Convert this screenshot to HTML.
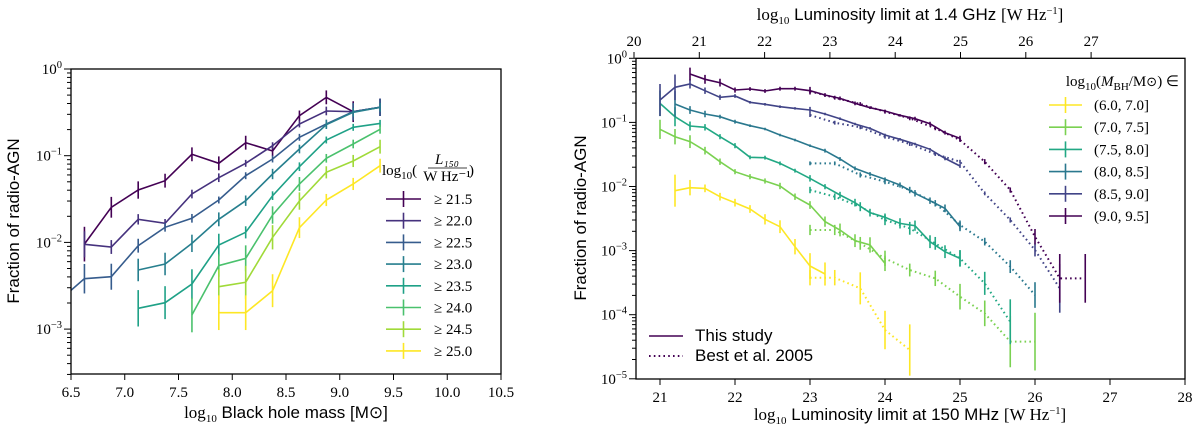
<!DOCTYPE html>
<html><head><meta charset="utf-8"><style>
html,body{margin:0;padding:0;background:#fff;}
svg{display:block;}
.num{font-family:"Liberation Serif",serif;font-size:15px;fill:#000;}
.lab{font-family:"Liberation Sans",sans-serif;font-size:17px;fill:#000;}
</style></head><body>
<svg id="fig" width="1200" height="431" viewBox="0 0 1200 431" xmlns="http://www.w3.org/2000/svg">
<defs>
<clipPath id="clipL"><rect x="71" y="69" width="430" height="305"/></clipPath>
<clipPath id="clipR"><rect x="636" y="58.3" width="549" height="320.7"/></clipPath>
</defs>
<g id="left"></g>
<g id="right"></g>
</svg>
<script>
// ---------- LEFT CHART DATA ----------
const massBins = [6.375,6.625,6.875,7.125,7.375,7.625,7.875,8.125,8.375,8.625,8.875,9.125,9.375];
const lumThreshLabels = ["\u2265 21.5","\u2265 22.0","\u2265 22.5","\u2265 23.0","\u2265 23.5","\u2265 24.0","\u2265 24.5","\u2265 25.0"];
const leftColors = ["#440154","#46327e","#365c8d","#277f8e","#1fa187","#4ac16d","#a0da39","#fde725"];
const leftStart = [1,1,0,3,3,5,6,6];
const s215 = [-2.02,-1.595,-1.396,-1.288,-0.984,-1.088,-0.85,-0.946,-0.539,-0.327,-0.492,-0.442];
const s220 = [-2.022,-2.053,-1.734,-1.78,-1.442,-1.254,-1.088,-0.885,-0.634,-0.484,-0.492,-0.442];
const s225 = [-2.687,-2.419,-2.396,-2.038,-1.826,-1.722,-1.511,-1.231,-1.038,-0.788,-0.634,-0.492,-0.442];
const s230 = [-2.318,-2.249,-2.011,-1.734,-1.519,-1.211,-0.923,-0.642,-0.5,-0.442];
const s235 = [-2.76,-2.695,-2.48,-2.03,-1.884,-1.461,-1.127,-0.819,-0.673,-0.627];
const s240 = [-2.837,-2.268,-2.184,-1.684,-1.326,-1.03,-0.865,-0.696];
const s245 = [-2.511,-2.46,-1.941,-1.523,-1.192,-1.061,-0.896];
const s250 = [-2.811,-2.811,-2.557,-1.83,-1.511,-1.326,-1.115];
const e215 = [0.2,0.12,0.1,0.08,0.08,0.08,0.08,0.06,0.06,0.08,0.12,0.1];
const e220 = [0.15,0.08,0.06,0.05,0.05,0.05,0.04,0.04,0.04,0.05,0.1,0.1];
const e225 = [0,0.17,0.15,0.08,0.05,0.05,0.04,0.04,0.04,0.04,0.05,0.1,0.1];
const e230 = [0.13,0.13,0.1,0.08,0.06,0.06,0.05,0.05,0.05,0.05];
const e235 = [0.21,0.19,0.17,0.13,0.07,0.05,0.05,0.04,0.04,0.04];
const e240 = [0.2,0.13,0.15,0.1,0.08,0.05,0.05,0.05];
const e245 = [0.2,0.19,0.14,0.1,0.07,0.07,0.08];
const e250 = [0.2,0.2,0.19,0.12,0.07,0.07,0.08];
const leftX_ticks = ["6.5","7.0","7.5","8.0","8.5","9.0","9.5","10.0","10.5"];

// ---------- RIGHT CHART DATA ----------
const lum150 = [21.0,21.2,21.4,21.6,21.8,22.0,22.2,22.4,22.6,22.8,23.0,23.2,23.4,23.6,23.8,24.0,24.2,24.4,24.6,24.8,25.0];
const bestLum = [23.0,23.33,23.67,24.0,24.33,24.67,25.0,25.33,25.67,26.0,26.33,26.67];
const massLabels = ["(6.0, 7.0]","(7.0, 7.5]","(7.5, 8.0]","(8.0, 8.5]","(8.5, 9.0]","(9.0, 9.5]"];
const rightColors = ["#fde725","#7ad151","#22a884","#2a788e","#414487","#440154"];
const studyStart = [1,0,0,1,0,2];
const sm60 = [-2.065,-2.018,-2.029,-2.159,-2.252,-2.351,-2.512,-2.627,-2.939,-3.24,-3.365];
const sm70 = [-1.108,-1.223,-1.3,-1.441,-1.613,-1.769,-1.847,-1.914,-1.992,-2.159,-2.289,-2.548,-2.678,-2.845,-2.912,-3.199];
const sm75 = [-0.703,-0.911,-1.056,-1.077,-1.223,-1.363,-1.545,-1.55,-1.639,-1.753,-1.873,-2.003,-2.133,-2.252,-2.408,-2.481,-2.575,-2.611,-2.861,-3.017,-3.121];
const sm80 = [-0.713,-0.807,-0.869,-0.911,-0.989,-1.051,-1.103,-1.197,-1.275,-1.363,-1.441,-1.571,-1.717,-1.805,-1.888,-1.977,-2.106,-2.221,-2.341,-2.627];
const sm85 = [-0.651,-0.453,-0.401,-0.505,-0.609,-0.588,-0.687,-0.718,-0.755,-0.781,-0.807,-0.869,-0.942,-1.025,-1.093,-1.196,-1.264,-1.337,-1.42,-1.561,-1.68];
const sm90 = [-0.245,-0.328,-0.38,-0.495,-0.479,-0.51,-0.474,-0.474,-0.505,-0.573,-0.625,-0.703,-0.77,-0.822,-0.89,-0.942,-1.02,-1.16,-1.249];
const se60 = [0.25,0.12,0.06,0.06,0.06,0.06,0.08,0.1,0.12,0.2,0.18];
const se70 = [0.15,0.12,0.1,0.06,0.05,0.04,0.04,0.04,0.05,0.05,0.06,0.08,0.1,0.1,0.12,0.12];
const se75 = [0.2,0.15,0.07,0.05,0.04,0.04,0.03,0.03,0.03,0.03,0.05,0.04,0.05,0.06,0.06,0.06,0.08,0.08,0.1,0.1,0.13];
const se80 = [0.2,0.06,0.05,0.03,0.03,0.02,0.02,0.02,0.02,0.02,0.03,0.03,0.03,0.03,0.03,0.04,0.05,0.05,0.06,0.07];
const se85 = [0.25,0.2,0.07,0.05,0.04,0.03,0.02,0.02,0.02,0.02,0.05,0.02,0.02,0.02,0.02,0.02,0.02,0.02,0.02,0.03,0.03];
const se90 = [0.1,0.07,0.06,0.04,0.03,0.03,0.03,0.03,0.06,0.03,0.03,0.03,0.02,0.02,0.02,0.03,0.03,0.03,0.04];
const bm60 = [-3.422,-3.422,-3.589,-4.239,-4.551];
const bm70 = [-2.678,-2.678,-2.887,-3.121,-3.303,-3.433,-3.719,-3.979,-4.42,-4.42];
const bm75 = [-2.055,-2.159,-2.315,-2.523,-2.652,-2.887,-3.121,-3.511,-4.11];
const bm80 = [-1.639,-1.639,-1.82,-1.925,-2.055,-2.262,-2.601,-2.86,-3.25,-3.693];
const bm85 = [-0.885,-1.004,-1.077,-1.223,-1.337,-1.493,-1.613,-2.107,-2.523,-2.991,-3.589];
const bm90 = [-0.515,-0.614,-0.713,-0.833,-0.936,-1.092,-1.274,-1.613,-2.055,-2.783,-3.433,-3.433];
const be60 = [0.12,0.12,0.25,0.3,0.4];
const be70 = [0.08,0.08,0.1,0.12,0.1,0.12,0.2,0.2,0.4,0.45];
const be75 = [0.05,0.05,0.07,0.08,0.1,0.1,0.12,0.18,0.35];
const be80 = [0.03,0.03,0.04,0.04,0.05,0.05,0.07,0.06,0.1,0.2];
const be85 = [0.03,0.03,0.03,0.03,0.03,0.03,0.03,0.03,0.04,0.1,0.38];
const be90 = [0.03,0.03,0.03,0.03,0.03,0.03,0.03,0.04,0.04,0.12,0.38,0.38];
const botTicks = ["21","22","23","24","25","26","27","28"];
const topTicks = ["20","21","22","23","24","25","26","27"];

const NS = "http://www.w3.org/2000/svg";
function mk(parent, tag, attrs){
  const el = document.createElementNS(NS, tag);
  for (const k in attrs) el.setAttribute(k, attrs[k]);
  parent.appendChild(el);
  return el;
}
function sup(parent, x, y, base, exp, anchor){
  const t = mk(parent,'text',{x:x,y:y,'text-anchor':anchor||'end',class:'num'});
  t.appendChild(document.createTextNode(base));
  const ts = document.createElementNS(NS,'tspan');
  ts.setAttribute('dy','-6'); ts.setAttribute('font-size','10.5');
  ts.textContent = exp; t.appendChild(ts);
  return t;
}

// ---------- LEFT ----------
const L = document.getElementById('left');
const xL = m => 71 + (m-6.5)*107.5;
const yL = lg => 69 - lg*86.7;
const leftSeries = [s215,s220,s225,s230,s235,s240,s245,s250];
const leftErr = [e215,e220,e225,e230,e235,e240,e245,e250];
const gL = mk(L,'g',{'clip-path':'url(#clipL)'});


leftSeries.forEach((s,k)=>{
  const start = leftStart[k];
  const pts = s.map((v,i)=>xL(massBins[start+i]).toFixed(1)+','+yL(v).toFixed(1)).join(' ');
  const pl = mk(gL,'polyline',{points:pts,fill:'none',stroke:leftColors[k],'stroke-width':1.6});
  
  
  s.forEach((v,i)=>{
    const e = leftErr[k][i]; if(!e) return;
    const x = xL(massBins[start+i]);
    const b = mk(gL,'line',{x1:x,x2:x,y1:yL(v-e),y2:yL(v+e),stroke:leftColors[k],'stroke-width':1.6});
    
    
  });
});
const axL = mk(L,'rect',{x:71,y:69,width:430,height:305,fill:'none',stroke:'#000','stroke-width':1.3});


leftX_ticks.forEach((t,i)=>{
  const x = 71 + i*53.75;
  mk(L,'line',{x1:x,x2:x,y1:374,y2:380,stroke:'#000','stroke-width':1});
  const tx = mk(L,'text',{x:x,y:397,'text-anchor':'middle',class:'num'}); tx.textContent=t;
  
  
});
for(let d=0; d>=-4; d--){
  for(let m=1;m<=9;m++){
    const lg = d + Math.log10(m);
    const y = yL(lg);
    if(y<68.5||y>374.5) continue;
    mk(L,'line',{x1:71,x2:m===1?64:67,y1:y,y2:y,stroke:'#000','stroke-width':1});
  }
  if(yL(d)>=68 && yL(d)<=375){
    const t = sup(L,62,yL(d)+5,'10',d===0?'0':'\u2212'+(-d));
    
    
  }
}
const xtL = mk(L,'text',{x:286,y:418,'text-anchor':'middle',class:'lab'});
xtL.innerHTML = '<tspan font-family="Liberation Serif">log</tspan><tspan font-family="Liberation Serif" font-size="11" dy="4">10</tspan><tspan dy="-4"> Black hole mass [M</tspan><tspan font-family="DejaVu Sans">\u2299</tspan>]';


const ytL = mk(L,'text',{x:0,y:0,'text-anchor':'middle',class:'lab',transform:'translate(19,221) rotate(-90)'});
ytL.textContent='Fraction of radio-AGN';


// legend
const lgL = mk(L,'g',{});


const ltitle = mk(lgL,'text',{x:382,y:175,class:'num','font-size':'16'});
ltitle.innerHTML='log<tspan font-size="11" dy="4">10</tspan><tspan dy="-4">(</tspan>';
mk(lgL,'text',{x:447,y:164,'text-anchor':'middle',class:'num','font-size':'12','font-style':'italic'}).textContent='L\u2081\u2085\u2080';
mk(lgL,'line',{x1:428,x2:467,y1:168,y2:168,stroke:'#000','stroke-width':0.8});
mk(lgL,'text',{x:447,y:181,'text-anchor':'middle',class:'num','font-size':'11'}).textContent='W Hz\u207b\u00b9';
mk(lgL,'text',{x:469,y:175,class:'num','font-size':'16'}).textContent=')';
lumThreshLabels.forEach((t,k)=>{
  const y = 199 + k*21.7;
  const g = mk(lgL,'g',{});
  
  
  mk(g,'line',{x1:386,x2:421,y1:y,y2:y,stroke:leftColors[k],'stroke-width':1.6});
  mk(g,'line',{x1:403.5,x2:403.5,y1:y-8,y2:y+8,stroke:leftColors[k],'stroke-width':1.6});
  const tx = mk(g,'text',{x:434,y:y+5,class:'num','font-size':'16'}); tx.textContent=t;
});

// ---------- RIGHT ----------
const R = document.getElementById('right');
const xR = l => 660 + (l-21)*75;
const yR = lg => 58.3 - lg*64.1;
const xTop = t => 634 + (t-20)*65.3;
const studySeries = [sm60,sm70,sm75,sm80,sm85,sm90];
const studyErr = [se60,se70,se75,se80,se85,se90];
const bestSeries = [bm60,bm70,bm75,bm80,bm85,bm90];
const bestErr = [be60,be70,be75,be80,be85,be90];
const gR = mk(R,'g',{'clip-path':'url(#clipR)'});


function drawR(series, errs, xs, startArr, dotted, nm){
  series.forEach((s,k)=>{
    const st = startArr ? startArr[k] : 0;
    const pts = s.map((v,i)=>xR(xs[st+i]).toFixed(1)+','+yR(v).toFixed(1)).join(' ');
    const a = {points:pts,fill:'none',stroke:rightColors[k],'stroke-width':1.6};
    if(dotted){a['stroke-dasharray']='1.6 3.2'; a['stroke-width']=2;}
    const pl = mk(gR,'polyline',a);
    
    
    s.forEach((v,i)=>{
      const x = xR(xs[st+i]); const e = errs[k][i];
      const b = mk(gR,'line',{x1:x,x2:x,y1:yR(v-e),y2:yR(v+e),stroke:rightColors[k],'stroke-width':1.6});
      
      
    });
  });
}
drawR(bestSeries,bestErr,bestLum,null,true,'best2005');
drawR(studySeries,studyErr,lum150,studyStart,false,'this-study');
const axR = mk(R,'rect',{x:636,y:58.3,width:549,height:320.7,fill:'none',stroke:'#000','stroke-width':1.3});


botTicks.forEach(t=>{
  const x = xR(+t);
  mk(R,'line',{x1:x,x2:x,y1:379,y2:385,stroke:'#000','stroke-width':1});
  const tx = mk(R,'text',{x:x,y:402,'text-anchor':'middle',class:'num'}); tx.textContent=t;
  
  
});
topTicks.forEach(t=>{
  const x = xTop(+t);
  mk(R,'line',{x1:x,x2:x,y1:58.3,y2:52,stroke:'#000','stroke-width':1});
  const tx = mk(R,'text',{x:x,y:46,'text-anchor':'middle',class:'num'}); tx.textContent=t;
  
  
});
for(let d=0; d>=-5; d--){
  for(let m=1;m<=9;m++){
    const lg = d + Math.log10(m);
    const y = yR(lg);
    if(y<58||y>379.5) continue;
    mk(R,'line',{x1:636,x2:m===1?629:632,y1:y,y2:y,stroke:'#000','stroke-width':1});
  }
  const t = sup(R,627,yR(d)+5,'10',d===0?'0':'\u2212'+(-d));
  
  
}
const xtR = mk(R,'text',{x:910,y:420,'text-anchor':'middle',class:'lab'});
xtR.innerHTML = '<tspan font-family="Liberation Serif">log</tspan><tspan font-family="Liberation Serif" font-size="11" dy="4">10</tspan><tspan dy="-4"> Luminosity limit at 150 MHz </tspan><tspan font-family="Liberation Serif">[W Hz</tspan><tspan font-family="Liberation Serif" font-size="10.5" dy="-6">\u22121</tspan><tspan font-family="Liberation Serif" dy="6">]</tspan>';


const ttR = mk(R,'text',{x:910,y:20,'text-anchor':'middle',class:'lab'});
ttR.innerHTML = '<tspan font-family="Liberation Serif">log</tspan><tspan font-family="Liberation Serif" font-size="11" dy="4">10</tspan><tspan dy="-4"> Luminosity limit at 1.4 GHz </tspan><tspan font-family="Liberation Serif">[W Hz</tspan><tspan font-family="Liberation Serif" font-size="10.5" dy="-6">\u22121</tspan><tspan font-family="Liberation Serif" dy="6">]</tspan>';


const ytR = mk(R,'text',{x:0,y:0,'text-anchor':'middle',class:'lab',transform:'translate(586,218) rotate(-90)'});
ytR.textContent='Fraction of radio-AGN';


// mass legend
const lgR = mk(R,'g',{});


const mt = mk(lgR,'text',{x:1179,y:86,'text-anchor':'end',class:'num','font-size':'16'});
mt.innerHTML='log<tspan font-size="11" dy="4">10</tspan><tspan dy="-4">(</tspan><tspan font-style="italic">M</tspan><tspan font-size="11" dy="4">BH</tspan><tspan dy="-4">/M</tspan><tspan font-family="DejaVu Sans" font-size="13">\u2299</tspan><tspan>) \u2208</tspan>';
massLabels.forEach((t,k)=>{
  const y = 105 + k*22.2;
  const g = mk(lgR,'g',{});
  
  
  mk(g,'line',{x1:1049,x2:1082,y1:y,y2:y,stroke:rightColors[k],'stroke-width':1.6});
  mk(g,'line',{x1:1065.5,x2:1065.5,y1:y-8,y2:y+8,stroke:rightColors[k],'stroke-width':1.6});
  const tx = mk(g,'text',{x:1094,y:y+5,class:'num','font-size':'16'}); tx.textContent=t;
});
// style legend
const lgS = mk(R,'g',{});


mk(lgS,'line',{x1:649,x2:683,y1:336,y2:336,stroke:'#440154','stroke-width':1.6});
mk(lgS,'line',{x1:649,x2:683,y1:356,y2:356,stroke:'#440154','stroke-width':2,'stroke-dasharray':'1.6 3.2'});
const t1 = mk(lgS,'text',{x:695,y:341,class:'lab','font-size':'14'}); t1.textContent='This study';


const t2 = mk(lgS,'text',{x:695,y:361,class:'lab','font-size':'14'}); t2.textContent='Best et al. 2005';


</script>
</body></html>
